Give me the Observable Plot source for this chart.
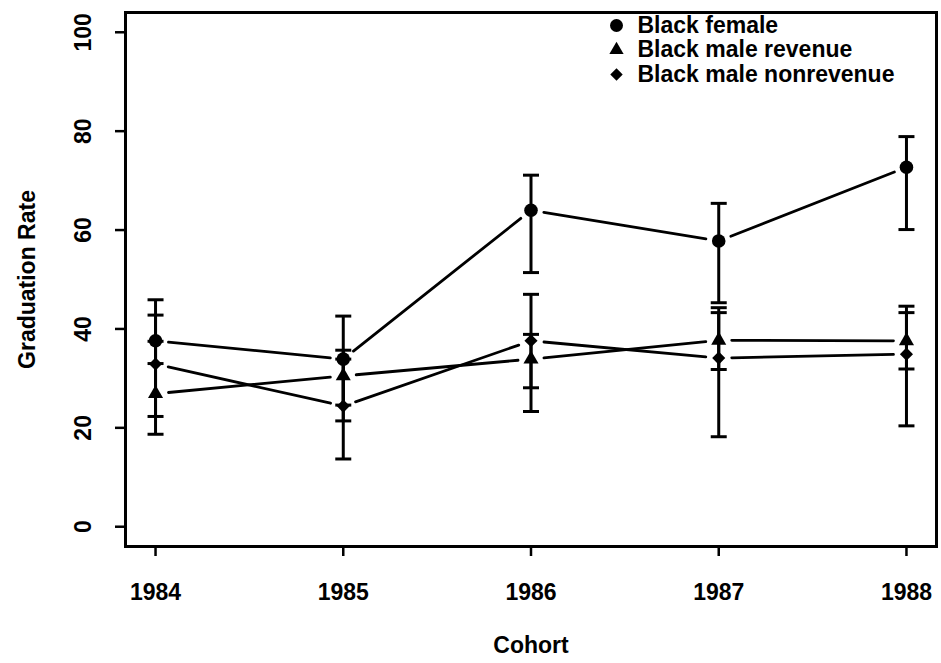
<!DOCTYPE html>
<html>
<head>
<meta charset="utf-8">
<script src="https://cdn.jsdelivr.net/npm/d3@7"></script>
<script src="https://cdn.jsdelivr.net/npm/@observablehq/plot@0.6"></script>
<style>
  html, body { margin: 0; padding: 0; background: #fff; }
  #chart { width: 941px; height: 663px; }
</style>
</head>
<body>
<div id="chart"></div>
<script>
// ---- Data ----
const years = [1984, 1985, 1986, 1987, 1988];
const seriesNames = ["Black female", "Black male revenue", "Black male nonrevenue"];

const female    = [37.6, 33.9, 64.0, 57.8, 72.7];
const femaleLo  = [33.0, 24.6, 51.4, 45.3, 60.1];
const femaleHi  = [42.8, 42.6, 71.1, 65.4, 78.9];

const revenue   = [26.9, 30.5, 33.9, 37.7, 37.6];
const revenueLo = [22.3, 21.4, 23.3, 18.2, 20.4];
const revenueHi = [37.5, 35.7, 38.9, 43.3, 44.6];

const nonrev    = [32.9, 24.4, 37.6, 34.1, 34.9];
const nonrevLo  = [18.7, 13.7, 28.1, 31.8, 31.9];
const nonrevHi  = [45.9, 33.9, 47.0, 44.3, 43.3];

const xTicks = [1984, 1985, 1986, 1987, 1988];
const yTicks = [0, 20, 40, 60, 80, 100];
const xTitle = "Cohort";
const yTitle = "Graduation Rate";

// ---- Build long table ----
const seriesData = [
  {name: seriesNames[0], v: female,  lo: femaleLo,  hi: femaleHi,  symbol: "circle",   r: 6.8},
  {name: seriesNames[1], v: revenue, lo: revenueLo, hi: revenueHi, symbol: "triangle", r: 5.6},
  {name: seriesNames[2], v: nonrev,  lo: nonrevLo,  hi: nonrevHi,  symbol: "diamond2", r: 5.9}
];
const records = seriesData.flatMap(s =>
  years.map((year, i) => ({series: s.name, year, rate: s.v[i], lo: s.lo[i], hi: s.hi[i]}))
);

// R type="b": segments stop short of the points
function gapCurve(gap) {
  return (ctx) => {
    let px, py, n = 0;
    return {
      areaStart() {}, areaEnd() {},
      lineStart() { n = 0; },
      lineEnd() {},
      point(x, y) {
        x = +x; y = +y;
        if (n++ > 0) {
          const dx = x - px, dy = y - py, L = Math.hypot(dx, dy);
          if (L > 2 * gap) {
            const ux = dx / L, uy = dy / L;
            ctx.moveTo(px + ux * gap, py + uy * gap);
            ctx.lineTo(x - ux * gap, y - uy * gap);
          }
        }
        px = x; py = y;
      }
    };
  };
}

// horizontal cap symbol for error bars
const capSymbol = {
  draw(context, size) {
    const h = Math.sqrt(size / Math.PI);
    context.moveTo(-h, 0);
    context.lineTo(h, 0);
  }
};

const font = "'Liberation Sans', Arial, Helvetica, sans-serif";
const fs = 23;

const legendMarks = seriesData.flatMap((s, i) => [
  Plot.dot([s.name], {frameAnchor: "top-left", dx: 491, dy: 13 + i * 24.5,
    symbol: s.symbol, r: s.r - 0.3, fill: "black", stroke: "none"}),
  Plot.text([s.name], {frameAnchor: "top-left", dx: 512, dy: 13 + i * 24.5,
    text: d => d, textAnchor: "start", lineAnchor: "middle",
    fontSize: fs, fontWeight: "bold", fill: "black"})
]);

const chart = Plot.plot({
  width: 941,
  height: 663,
  marginLeft: 125,
  marginRight: 5,
  marginTop: 12,
  marginBottom: 117,
  style: {fontFamily: font, background: "#fff", color: "black", overflow: "visible"},
  x: {domain: [1983.84, 1988.16], axis: null},
  y: {domain: [-4, 104], axis: null},
  marks: [
    // axes ticks
    Plot.axisX({ticks: xTicks, tickSize: 10, tickFormat: () => "", label: null, strokeWidth: 2.5}),
    Plot.axisY({ticks: yTicks, tickSize: 10, tickFormat: () => "", label: null, strokeWidth: 2.5}),
    // tick labels
    Plot.text(xTicks, {x: d => d, text: d => String(d), frameAnchor: "bottom", dy: 46,
      textAnchor: "middle", lineAnchor: "middle",
      fontSize: fs, fontWeight: "bold", fill: "black"}),
    Plot.text(yTicks, {y: d => d, text: d => String(d), frameAnchor: "left", dx: -42, rotate: -90,
      textAnchor: "middle", lineAnchor: "middle",
      fontSize: fs, fontWeight: "bold", fill: "black"}),
    // axis titles
    Plot.text([xTitle], {text: d => d, frameAnchor: "bottom", dy: 99,
      textAnchor: "middle", lineAnchor: "middle",
      fontSize: fs, fontWeight: "bold", fill: "black"}),
    Plot.text([yTitle], {text: d => d, frameAnchor: "left", dx: -98, rotate: -90,
      textAnchor: "middle", lineAnchor: "middle",
      fontSize: fs, fontWeight: "bold", fill: "black"}),
    // connecting lines
    Plot.line(records, {x: "year", y: "rate", z: "series", curve: gapCurve(13),
      stroke: "black", strokeWidth: 2.8}),
    // error bars
    Plot.ruleX(records, {x: "year", y1: "lo", y2: "hi", stroke: "black", strokeWidth: 3}),
    Plot.dot(records, {x: "year", y: "lo", symbol: capSymbol, r: 8, stroke: "black", strokeWidth: 3, fill: "none"}),
    Plot.dot(records, {x: "year", y: "hi", symbol: capSymbol, r: 8, stroke: "black", strokeWidth: 3, fill: "none"}),
    // point markers
    ...seriesData.map(s => Plot.dot(records.filter(d => d.series === s.name),
      {x: "year", y: "rate", symbol: s.symbol, r: s.r, fill: "black", stroke: "none"})),
    // legend
    ...legendMarks,
    Plot.frame({stroke: "black", strokeWidth: 3})
  ]
});

document.getElementById("chart").appendChild(chart);
</script>
</body>
</html>
